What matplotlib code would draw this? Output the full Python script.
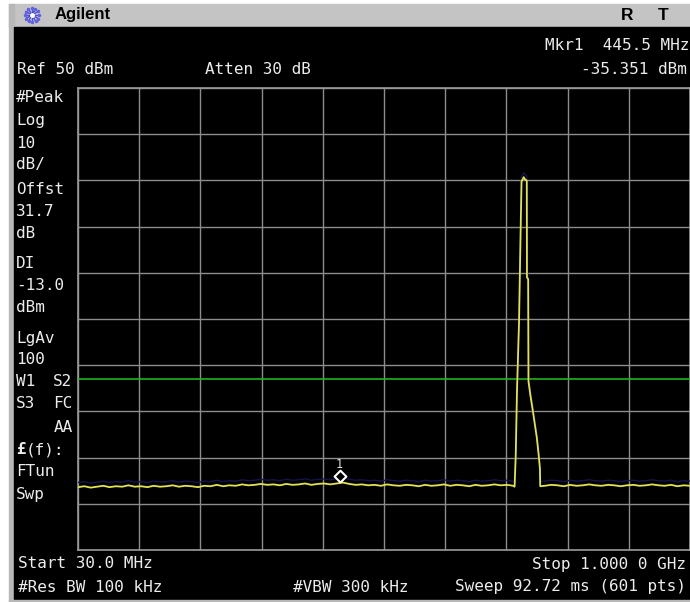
import matplotlib
matplotlib.use("Agg")
import matplotlib.pyplot as plt
import numpy as np
from matplotlib.path import Path
from matplotlib.patches import Rectangle

# sweep settings (MHz / dBm)
start_mhz = 30.0
stop_mhz = 1000.0
ref_dbm = 50.0
db_per_div = 10.0
display_line_dbm = -13.0
mkr_freq = 445.5
mkr_level = -35.351

floor_left_freq = np.arange(30, 721, 10)
floor_left_dbm = [
    -36.4, -36.2, -36.5, -36.3, -36.1, -36.4, -36.2, -36.3, -36.0, -36.3,
    -36.2, -36.4, -36.1, -36.3, -36.2, -36.0, -36.3, -36.1, -36.2, -36.4,
    -36.1, -36.2, -35.9, -36.2, -36.0, -36.1, -35.8, -36.0, -35.9, -35.7,
    -35.9, -35.8, -36.0, -35.7, -35.9, -35.8, -35.6, -35.9, -35.7, -35.6,
    -35.8, -35.6, -35.4, -35.7, -35.9, -35.8, -36.0, -35.9, -36.1, -35.8,
    -36.0, -36.1, -35.9, -36.0, -36.2, -35.9, -36.1, -36.0, -35.8, -36.1,
    -35.9, -36.0, -36.2, -35.9, -36.1, -36.0, -35.8, -36.0, -35.9, -36.1,
]
# carrier around 735 MHz
peak_freq = [722.0, 723.8, 725.8, 729.0, 731.8, 733.0, 735.0, 736.5, 738.5, 741.3,
             741.6, 743.5, 744.0, 747.0, 750.8, 757.2, 760.2, 762.2, 762.6]
peak_dbm = [-36.3, -29.5, -15.5, -0.8, 21.0, 29.8, 30.3, 30.7, 30.2, 30.0,
            9.0, 8.6, -13.5, -16.5, -19.8, -25.7, -29.5, -32.5, -36.2]
floor_right_freq = np.arange(770, 1001, 10)
floor_right_dbm = [
    -36.1, -35.9, -36.0, -36.2, -35.9, -36.1, -36.0, -35.8, -36.0, -36.1,
    -35.9, -36.0, -36.2, -36.0, -35.9, -36.1, -36.0, -35.8, -36.0, -36.1,
    -35.9, -36.2, -36.0, -36.1,
]

trace_freq = np.concatenate([floor_left_freq, peak_freq, floor_right_freq])
trace_dbm = np.concatenate([floor_left_dbm, peak_dbm, floor_right_dbm])

W, H = 690, 602
fig = plt.figure(figsize=(W / 100, H / 100), dpi=100)
fig.patch.set_facecolor("white")

# background in pixel coords
bg = fig.add_axes([0, 0, 1, 1])
bg.set_xlim(0, W)
bg.set_ylim(H, 0)
bg.axis("off")
bg.add_patch(Rectangle((9, 4), W - 9, 23, color="#c4c4c4"))
bg.add_patch(Rectangle((9, 4), 5, H - 4, color="#b8b8b8"))
bg.add_patch(Rectangle((14, 27), W - 14, H - 29, color="black"))
bg.add_patch(Rectangle((9, H - 2), W - 9, 2, color="#b8b8b8"))

# agilent logo
for a in np.linspace(0, 2 * np.pi, 12, endpoint=False):
    bg.plot([32, 32 + 7 * np.cos(a)], [15, 15 + 7 * np.sin(a)], color="#4a4ad8", lw=1.0)
    bg.plot(32 + 7 * np.cos(a), 15 + 7 * np.sin(a), "o", color="#6060e0", ms=1.5)
bg.plot(32, 15, "o", color="white", ms=2.5)
bg.text(55, 15, "Agilent", fontsize=12, fontweight="bold", family="Liberation Sans",
        va="center", ha="left", color="black")
bg.text(627, 15, "R", fontsize=12.5, fontweight="bold", family="Liberation Sans",
        va="center", ha="center", color="black")
bg.text(663, 15, "T", fontsize=12.5, fontweight="bold", family="Liberation Sans",
        va="center", ha="center", color="black")

mono = dict(family="DejaVu Sans Mono", fontsize=11.5, color="#ececec", va="center")
bg.text(689, 45, "Mkr1  445.5 MHz", ha="right", **mono)
bg.text(17, 69, "Ref 50 dBm", ha="left", **mono)
bg.text(205, 69, "Atten 30 dB", ha="left", **mono)
bg.text(687, 69, "%.3f dBm" % mkr_level, ha="right", **mono)

side_labels = [("#Peak", 98), ("Log", 121), ("10", 143), ("dB/", 165), ("Offst", 189),
               ("31.7", 211), ("dB", 233), ("DI", 263), ("-13.0", 285), ("dBm", 307),
               ("LgAv", 338), ("100", 360), ("W1", 382), ("S3", 403),
               ("FTun", 472), ("Swp", 495)]
for txt, y in side_labels:
    bg.text(16, y, txt, ha="left", **mono)
bg.text(53, 382, "S2", ha="left", **mono)
bg.text(53, 403, "FC", ha="left", **mono)
bg.text(54, 428, "AA", ha="left", **mono)
bg.text(16, 450, "£", ha="left", fontweight="bold", **mono)
bg.text(26, 450, "(f):", ha="left", **mono)

bg.text(18, 564, "Start 30.0 MHz", ha="left", **mono)
bg.text(686, 564, "Stop 1.000 0 GHz", ha="right", **mono)
bg.text(18, 587, "#Res BW 100 kHz", ha="left", **mono)
bg.text(293, 587, "#VBW 300 kHz", ha="left", **mono)
bg.text(686, 587, "Sweep 92.72 ms (601 pts)", ha="right", **mono)

# graticule
x0, y0, x1, y1 = 78, 88, 690, 550
ax = fig.add_axes([x0 / W, 1 - y1 / H, (x1 - x0) / W, (y1 - y0) / H])
ax.set_facecolor("black")
ax.set_xlim(start_mhz, stop_mhz)
ax.set_ylim(ref_dbm - 10 * db_per_div, ref_dbm)
ax.set_xticks(np.linspace(start_mhz, stop_mhz, 11))
ax.set_yticks(np.linspace(ref_dbm - 10 * db_per_div, ref_dbm, 11))
ax.grid(True, color="#8c8c8c", lw=1.0)
ax.tick_params(length=0, labelbottom=False, labelleft=False)
for s in ax.spines.values():
    s.set_color("#9a9a9a")
    s.set_linewidth(1.2)

ax.axhline(display_line_dbm, color="#1fb51f", lw=1.2, zorder=3)
# dim second trace hiding behind the main one
ax.plot(trace_freq, trace_dbm + 1.0, color="#14144a", lw=1.0, zorder=3)
ax.plot(trace_freq, trace_dbm, color="#e2e255", lw=1.3, zorder=4)

# marker diamond sitting on the trace
diamond = Path([(0, 0), (6, 6), (0, 12), (-6, 6), (0, 0)],
               [Path.MOVETO, Path.LINETO, Path.LINETO, Path.LINETO, Path.CLOSEPOLY])
ax.plot([mkr_freq], [mkr_level], marker=diamond, ms=17, mfc="black", mec="white",
        mew=1.5, ls="none", zorder=5)
ax.annotate("1", (mkr_freq, mkr_level), xytext=(-1, 18), textcoords="offset pixels",
            ha="center", va="center", color="#e0e0e0", fontsize=8.5,
            family="DejaVu Sans Mono", zorder=5)

fig.savefig("out.png", dpi=100, facecolor=fig.get_facecolor())
